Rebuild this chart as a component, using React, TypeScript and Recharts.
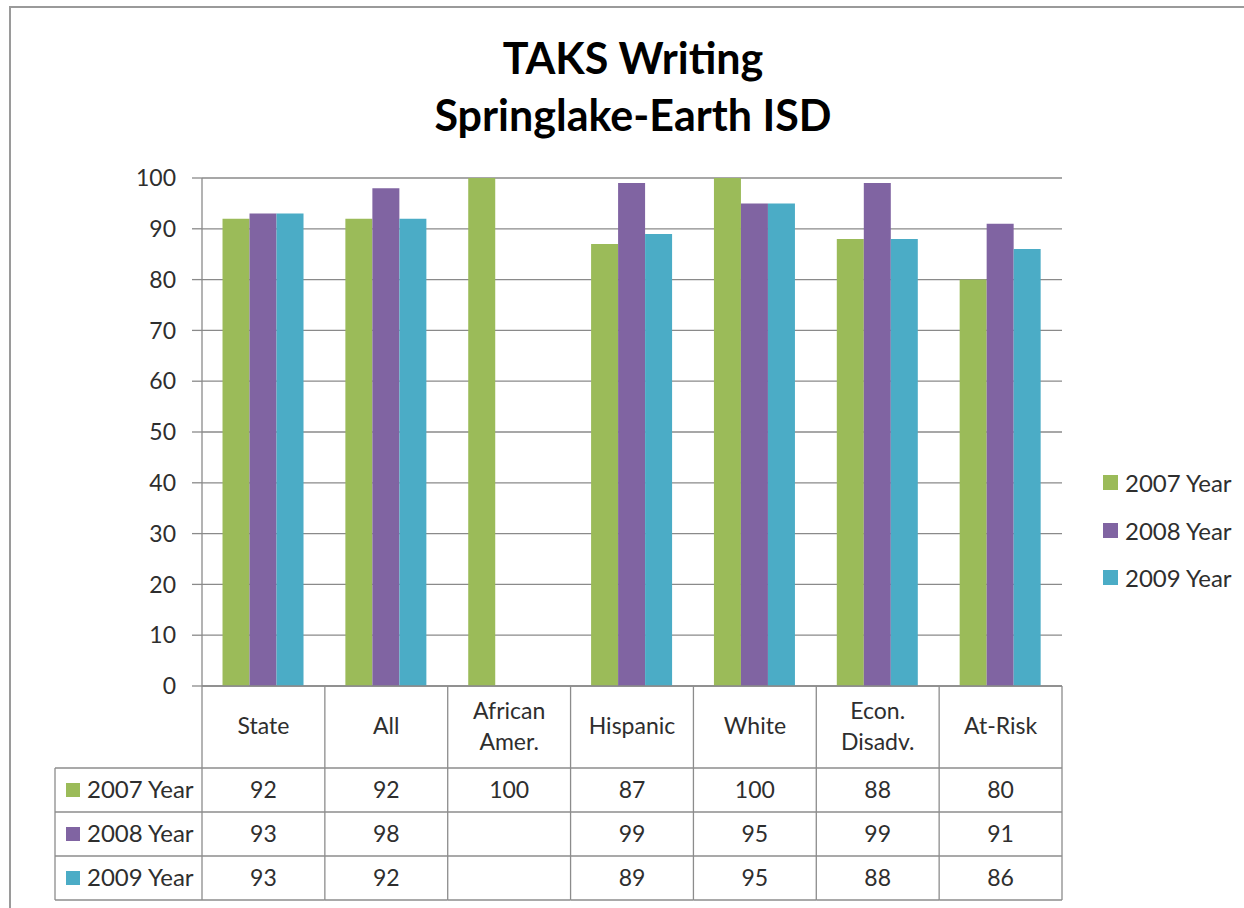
import React from 'react';
import { BarChart, Bar, XAxis, YAxis, CartesianGrid, Legend, Customized } from 'recharts';

const categories = ['State', 'All', 'African Amer.', 'Hispanic', 'White', 'Econ. Disadv.', 'At-Risk'];
const seriesNames = ['2007 Year', '2008 Year', '2009 Year'];
const values2007: (number | null)[] = [92, 92, 100, 87, 100, 88, 80];
const values2008: (number | null)[] = [93, 98, null, 99, 95, 99, 91];
const values2009: (number | null)[] = [93, 92, null, 89, 95, 88, 86];
const seriesKeys = ['y2007', 'y2008', 'y2009'];
const seriesColors = ['#9BBB59', '#8064A2', '#4BACC6'];
const yTicks = [0, 10, 20, 30, 40, 50, 60, 70, 80, 90, 100];
const titleLines = ['TAKS Writing', 'Springlake-Earth ISD'];

const seriesValues = [values2007, values2008, values2009];
const data = categories.map((c, i) => ({
  category: c,
  y2007: values2007[i],
  y2008: values2008[i],
  y2009: values2009[i],
}));

const FONT = 'Lato, "Open Sans", sans-serif';
const LINE = '#8c8c8c';
const TEXT = '#2e2e2e';

const HEADER_H = 82;
const ROW_H = 44;
const LABEL_COL_W = 147;

function TableTick(props: any) {
  const { x, y, payload, index, width } = props;
  const n = categories.length;
  const band = (typeof width === 'number' && width > 0 ? width : 860) / n;
  const x0 = x - band / 2;
  const x1 = x + band / 2;
  const total = HEADER_H + ROW_H * 3;
  const words = String(payload.value).split(' ');
  const headerLines = words.length > 1 ? words : [String(payload.value)];
  const headerYs = headerLines.length > 1 ? [y + 25, y + 56] : [y + 40];
  const i = typeof index === 'number' ? index : categories.indexOf(payload.value);
  return (
    <g>
      <line x1={x0} y1={y} x2={x0} y2={y + total} stroke={LINE} strokeWidth={1.3} />
      {i === n - 1 && <line x1={x1} y1={y} x2={x1} y2={y + total} stroke={LINE} strokeWidth={1.3} />}
      {[HEADER_H, HEADER_H + ROW_H, HEADER_H + 2 * ROW_H, total].map((dy) => (
        <line key={dy} x1={x0} y1={y + dy} x2={x1} y2={y + dy} stroke={LINE} strokeWidth={1.3} />
      ))}
      {headerLines.map((t, k) => (
        <text key={k} x={x} y={headerYs[k]} dy="0.35em" textAnchor="middle" fontFamily={FONT} fontSize={23} fill={TEXT}>
          {t}
        </text>
      ))}
      {seriesValues.map((vals, r) => (
        <text key={r} x={x} y={y + HEADER_H + ROW_H / 2 + r * ROW_H} dy="0.35em" textAnchor="middle" fontFamily={FONT} fontSize={23} fill={TEXT}>
          {vals[i] == null ? '' : vals[i]}
        </text>
      ))}
      {i === 0 && (
        <g>
          <line x1={x0 - LABEL_COL_W} y1={y + HEADER_H} x2={x0 - LABEL_COL_W} y2={y + total} stroke={LINE} strokeWidth={1.3} />
          {[HEADER_H, HEADER_H + ROW_H, HEADER_H + 2 * ROW_H, total].map((dy) => (
            <line key={dy} x1={x0 - LABEL_COL_W} y1={y + dy} x2={x0} y2={y + dy} stroke={LINE} strokeWidth={1.3} />
          ))}
          {seriesNames.map((s, r) => {
            const cy = y + HEADER_H + ROW_H / 2 + r * ROW_H;
            return (
              <g key={s}>
                <rect x={x0 - LABEL_COL_W + 11} y={cy - 7} width={14} height={14} fill={seriesColors[r]} />
                <text x={x0 - LABEL_COL_W + 32} y={cy} dy="0.35em" fontFamily={FONT} fontSize={24} fill={TEXT}>
                  {s}
                </text>
              </g>
            );
          })}
        </g>
      )}
    </g>
  );
}

function Title() {
  return (
    <g>
      <text x={633} y={74} textAnchor="middle" fontFamily={FONT} fontWeight={700} fontSize={43} fill="#000">
        {titleLines[0]}
      </text>
      <text x={633} y={131} textAnchor="middle" fontFamily={FONT} fontWeight={700} fontSize={43} fill="#000">
        {titleLines[1]}
      </text>
    </g>
  );
}

function renderLegend(props: any) {
  const payload = props.payload || [];
  return (
    <div style={{ fontFamily: FONT, fontSize: 24, color: TEXT }}>
      {payload.map((entry: any, k: number) => (
        <div key={k} style={{ height: 47.5, display: 'flex', alignItems: 'center', whiteSpace: 'nowrap' }}>
          <span style={{ width: 15, height: 15, background: entry.color, marginRight: 7, display: 'inline-block' }} />
          <span>{entry.value}</span>
        </div>
      ))}
    </div>
  );
}

export default function App() {
  return (
    <div style={{ position: 'absolute', left: 0, top: 0, width: 1244, height: 908, background: '#fff', overflow: 'hidden' }}>
      <div
        style={{
          position: 'absolute',
          left: 9,
          top: 6,
          width: 1260,
          height: 920,
          borderTop: '2px solid #9a9a9a',
          borderLeft: '2px solid #9a9a9a',
        }}
      />
      <div style={{ position: 'absolute', left: 0, top: 0 }}>
        <BarChart
          width={1244}
          height={908}
          data={data}
          margin={{ top: 178, right: 182, bottom: 8, left: 142 }}
          barGap={0}
          barCategoryGap="16.7%"
        >
          <CartesianGrid vertical={false} stroke="#8a8a8a" strokeWidth={1.3} />
          <YAxis
            width={60}
            domain={[0, 100]}
            ticks={yTicks}
            interval={0}
            axisLine={{ stroke: '#8a8a8a', strokeWidth: 1.3 }}
            tickLine={{ stroke: '#8a8a8a', strokeWidth: 1.3 }}
            tickSize={10}
            tickMargin={16}
            tick={{ fontFamily: FONT, fontSize: 23, fill: TEXT }}
          />
          <XAxis
            dataKey="category"
            height={214}
            interval={0}
            axisLine={{ stroke: '#8a8a8a', strokeWidth: 1.3 }}
            tickLine={false}
            tickSize={0}
            tickMargin={0}
            tick={(p: any) => <TableTick {...p} />}
          />
          {seriesKeys.map((k, i) => (
            <Bar key={k} dataKey={k} name={seriesNames[i]} fill={seriesColors[i]} isAnimationActive={false} />
          ))}
          <Legend
            layout="vertical"
            align="center"
            verticalAlign="middle"
            content={renderLegend}
            wrapperStyle={{ position: 'absolute', left: 1103, top: 459, width: 140 }}
          />
          <Customized component={Title} />
        </BarChart>
      </div>
    </div>
  );
}
